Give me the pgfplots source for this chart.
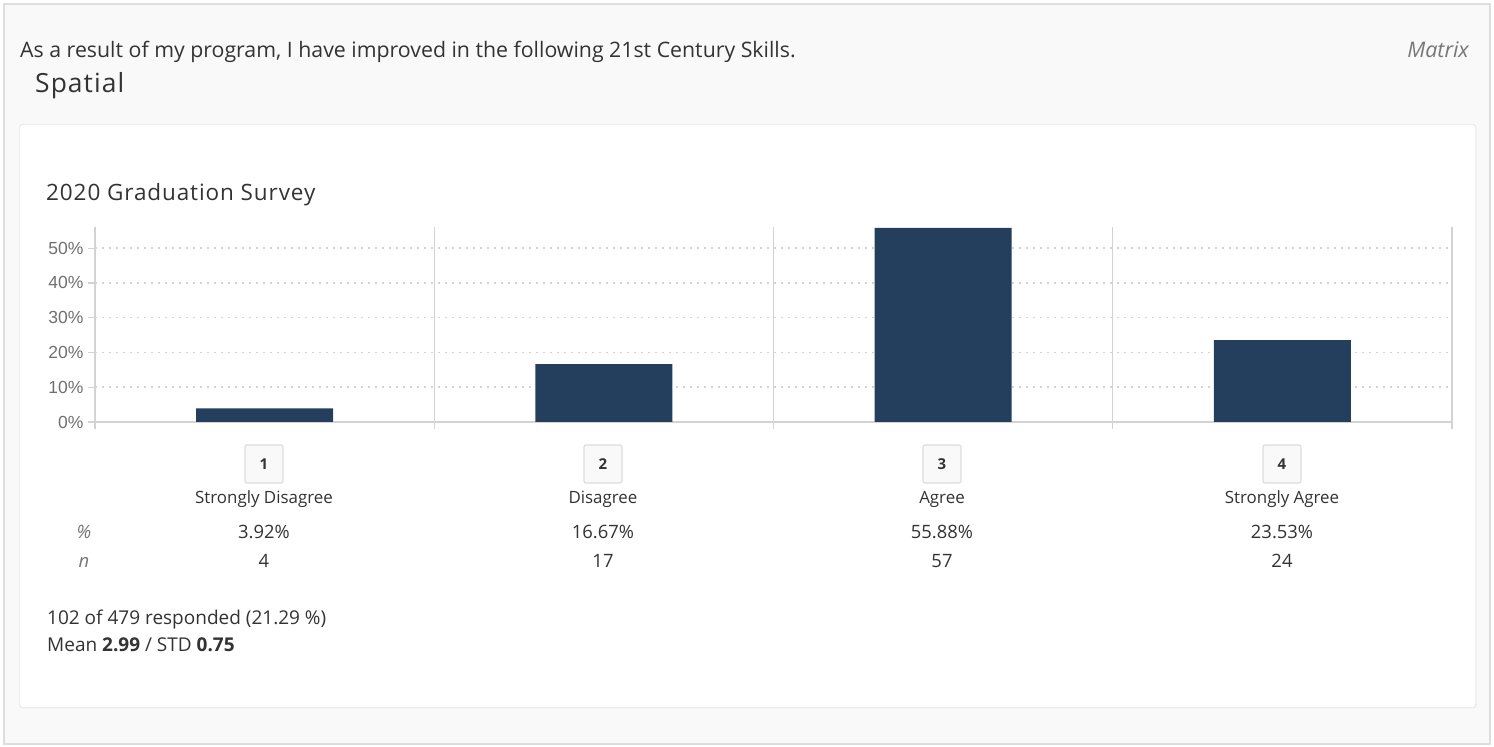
\documentclass[border=0pt]{standalone}
\usepackage{pgfplots}
\pgfplotsset{compat=1.18}
\usepackage{fontspec}
\setmainfont{Open Sans}
\newfontfamily\spaced[LetterSpace=4]{Open Sans}
\newfontfamily\arialf{Liberation Sans}
\definecolor{barc}{HTML}{243F5E}
\definecolor{txt}{HTML}{333333}
\definecolor{gtxt}{HTML}{777777}
\definecolor{ytxt}{HTML}{707070}
\definecolor{bgc}{HTML}{F9F9F9}
\definecolor{brd}{HTML}{DDDDDD}
\definecolor{gridc}{HTML}{D3D3D3}
\begin{document}
\begin{tikzpicture}[x=1pt,y=1pt]
\path[use as bounding box, fill=white] (0,0) rectangle (1494,747);
\filldraw[fill=bgc, draw=brd, line width=1.5pt] (4,3) rectangle (1490,743);
\fill[black!7, rounded corners=3pt] (19,38.5) rectangle (1476.5,623);
\fill[white, rounded corners=3pt] (20,40) rectangle (1475,622);
% header
\node[anchor=base west, inner sep=0, text=txt, font=\fontsize{21.3}{23}\selectfont] at (20,{747-58}) {As a result of my program, I have improved in the following 21st Century Skills.};
\node[anchor=base west, inner sep=0, text=txt, font=\spaced\fontsize{26.4}{28}\selectfont] at (35,{747-93}) {Spatial};
\node[anchor=base east, inner sep=0, text=gtxt, font=\itshape\fontsize{21.5}{23}\selectfont] at (1469,{747-58}) {Matrix};
\node[anchor=base west, inner sep=0, text=txt, font=\spaced\fontsize{22.5}{24}\selectfont] at (46,{747-201}) {2020 Graduation Survey};
% chart
\begin{axis}[
  at={(95pt,325pt)}, anchor=south west,
  scale only axis, width=1357pt, height=195pt,
  xmin=0.5, xmax=4.5, ymin=0, ymax=56.1,
  axis x line*=bottom, axis y line*=left,
  axis line style={draw=gridc, line width=1.3pt, -},
  xtick={0.5,1.5,2.5,3.5,4.5}, xticklabels={},
  ytick={0,10,20,30,40,50},
  yticklabel={\pgfmathprintnumber{\tick}\%},
  /pgf/number format/assume math mode=true,
  yticklabel style={font=\arialf\fontsize{17.5}{18}\selectfont, text=ytxt, xshift=-1pt},
  tick align=outside, major tick length=7pt,
  every tick/.style={draw=gridc, line width=1.3pt},
  xmajorgrids, ymajorgrids,
  major x grid style={draw=gridc, line width=1.3pt, solid},
  major y grid style={draw=gridc, line width=1.5pt, dash pattern=on 2pt off 5pt},
  clip=false,
]
\addplot[ybar, bar width=137pt, bar shift=0pt, fill=barc, draw=none]
  coordinates {(1,3.92) (2,16.67) (3,55.88) (4,23.53)};
\end{axis}
% categories
\foreach \cx/\num/\lab/\pc/\nn in {264/1/Strongly Disagree/3.92/4, 603/2/Disagree/16.67/17, 942/3/Agree/55.88/57, 1282/4/Strongly Agree/23.53/24}{
  \filldraw[fill=bgc, draw=brd, line width=1.2pt, rounded corners=2pt] ({\cx-19},{747-445}) rectangle ({\cx+19},{747-483});
  \node[text=txt, font=\bfseries\fontsize{15}{16}\selectfont, inner sep=0] at (\cx,{747-464}) {\num};
  \node[anchor=base, inner sep=0, text=txt, font=\fontsize{16.9}{18}\selectfont] at (\cx,{747-504}) {\lab};
  \node[anchor=base, inner sep=0, text=txt, font=\fontsize{18.4}{20}\selectfont] at (\cx,{747-539}) {\pc\%};
  \node[anchor=base, inner sep=0, text=txt, font=\fontsize{18.4}{20}\selectfont] at (\cx,{747-568}) {\nn};
}
\node[anchor=base, inner sep=0, text=gtxt, font=\itshape\fontsize{18.4}{20}\selectfont] at (84,{747-539}) {\%};
\node[anchor=base, inner sep=0, text=gtxt, font=\itshape\fontsize{18.4}{20}\selectfont] at (84,{747-568}) {n};
% footer
\node[anchor=base west, inner sep=0, text=txt, font=\fontsize{19}{21}\selectfont] at (47,{747-625}) {102 of 479 responded (21.29 \%)};
\node[anchor=base west, inner sep=0, text=txt, font=\fontsize{19}{21}\selectfont] at (47,{747-652}) {Mean \textbf{2.99} / STD \textbf{0.75}};
\end{tikzpicture}%
\end{document}
